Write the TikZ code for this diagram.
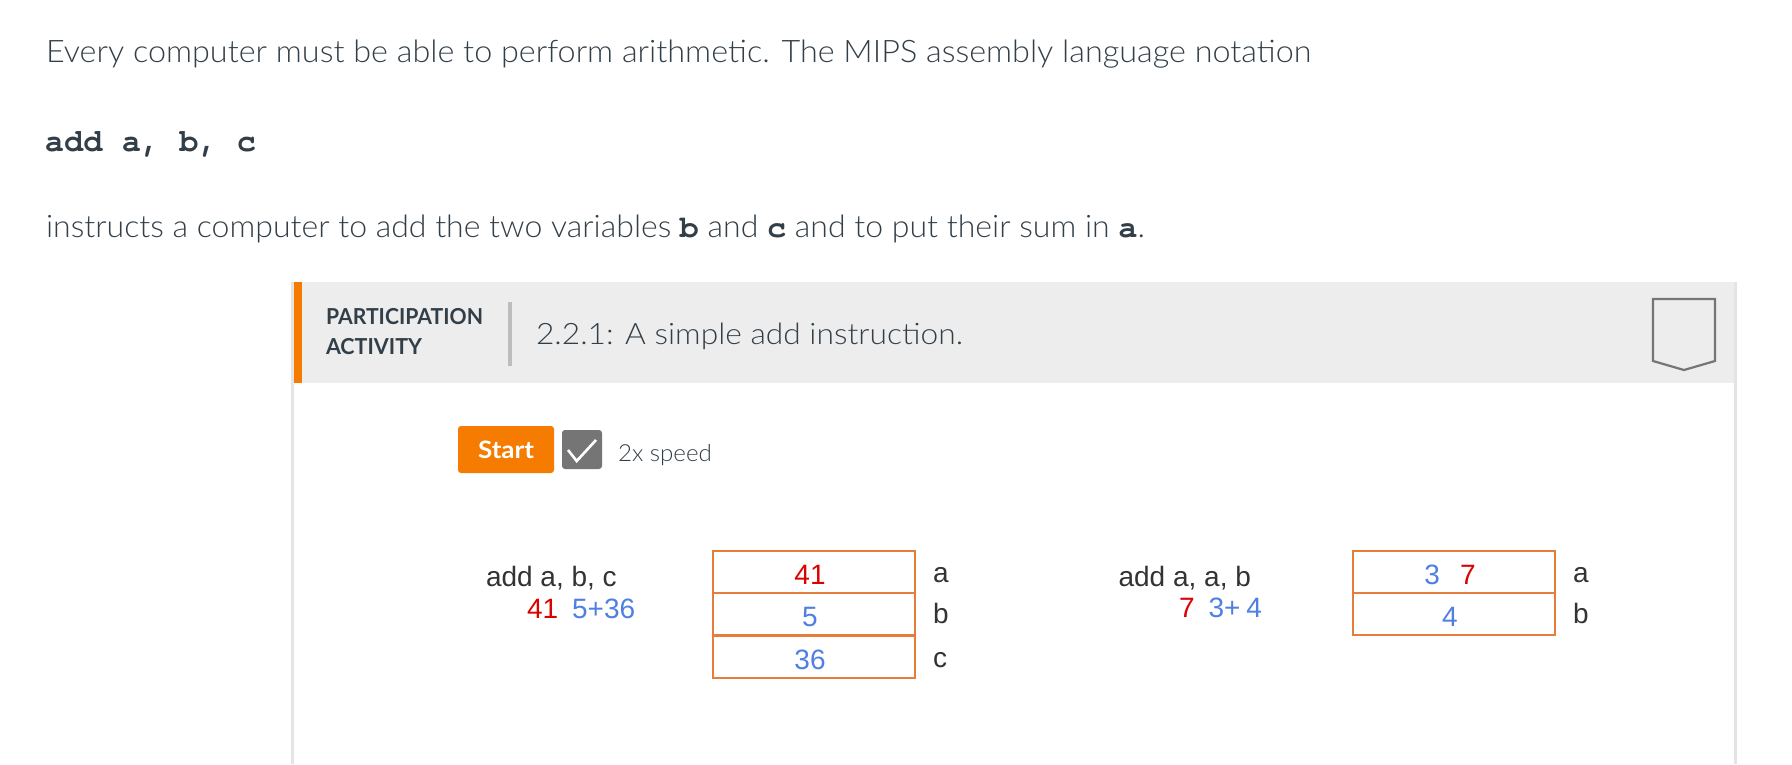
\documentclass[tikz,border=0pt]{standalone}
\usepackage{fontspec}
\usepackage{graphicx}
\IfFontExistsTF{Lato Light}{\setmainfont{Lato}[UprightFont=* Light, BoldFont=* Bold]}{\setmainfont{Lato}}
\newfontfamily\arialf{Liberation Sans}
\IfFontExistsTF{TeX Gyre Cursor}{\newfontfamily\codef{TeX Gyre Cursor}}{\newfontfamily\codef{Liberation Mono}}
\definecolor{ink}{HTML}{333F48}
\definecolor{hdr}{HTML}{EDEDED}
\definecolor{zyorange}{HTML}{F57C00}
\definecolor{cellorange}{HTML}{E67E3B}
\definecolor{valred}{HTML}{DD0000}
\definecolor{valblue}{HTML}{4F7FE0}
\definecolor{sepgrey}{HTML}{BDBDBD}
\definecolor{icongrey}{HTML}{757575}
\definecolor{edgegrey}{HTML}{E4E4E4}
\definecolor{txt}{HTML}{333333}
\newcommand{\fitw}[2]{\resizebox{#1}{\height}{#2}}
\newcommand{\codew}[1]{{\codef\bfseries #1}}
\newcommand{\cellval}[1]{#1\kern8pt\relax}
\tikzset{
  para/.style={anchor=base west, text=ink, font=\fontsize{31}{37}\selectfont},
  hdrbold/.style={anchor=base west, text=ink, font=\bfseries\fontsize{22}{26}\selectfont},
  arialtxt/.style={anchor=base west, text=txt, font=\arialf\fontsize{28}{34}\selectfont},
  cell/.style={draw=cellorange, line width=2pt, minimum width=202pt, minimum height=42pt,
    text height=25pt, text depth=0pt, font=\arialf\fontsize{28}{34}\selectfont},
  button/.style={fill=zyorange, rounded corners=3pt, minimum width=96pt, minimum height=47pt,
    text=white, font=\bfseries\fontsize{24}{28}\selectfont},
  checkbox/.style={fill=icongrey, rounded corners=3pt, minimum width=40pt, minimum height=39pt},
}
\begin{document}
\begin{tikzpicture}[x=1pt,y=-1pt, every node/.style={inner sep=0pt, outer sep=0pt}]
\useasboundingbox (0,0) rectangle (1792,764);
\fill[white] (0,0) rectangle (1792,764);

% introductory text
\node[para] (p1) at (46,62) {\fitw{1265pt}{Every computer must be able to perform arithmetic. The MIPS assembly language notation}};
\node[anchor=base west, text=ink, font=\codef\bfseries\fontsize{32}{38}\selectfont] (p2) at (45,151) {add a, b, c};
\node[para] (p3) at (46,237) {\fitw{1099pt}{instructs a computer to add the two variables \codew{b} and \codew{c} and to put their sum in \codew{a}.}};

% activity frame
\fill[edgegrey] (291,282) rectangle (1737,764);
\fill[white] (294,283) rectangle (1734,764);
\fill[hdr] (294,282) rectangle (1734,383);
\fill[zyorange] (294,282) rectangle (302,383);

\node[hdrbold] (pa1) at (326,324) {\fitw{157pt}{PARTICIPATION}};
\node[hdrbold] (pa2) at (326,354) {\fitw{96pt}{ACTIVITY}};
\draw[sepgrey, line width=4pt] (510,302) -- (510,366);
\node[anchor=base west, text=ink, font=\fontsize{29.5}{35}\selectfont] (title) at (536,344) {\fitw{427pt}{2.2.1: A simple add instruction.}};
\draw[icongrey, line width=2.2pt, line join=miter] (1653,299) -- (1715,299) -- (1715,361) -- (1684,370) -- (1653,361) -- cycle;

% controls
\node[button] (start) at (506,449.5) {\fitw{56pt}{Start}};
\node[checkbox] (chk) at (582,449.5) {};
\draw[white, line width=2.6pt] (568,450) -- (576.7,461) -- (596,440);
\node[anchor=base west, text=ink, font=\fontsize{23.5}{28}\selectfont] (speed) at (618,461) {\fitw{94pt}{2x speed}};

% first example
\node[arialtxt] (ins1) at (486,586) {add a, b, c};
\node[arialtxt] (val1) at (527,618) {\textcolor{valred}{41}\hspace{14pt}\textcolor{valblue}{5+36}};
\node[cell] (ta) at (814,572) {\cellval{\textcolor{valred}{41}}};
\node[cell] (tb) at (814,614) {\cellval{\textcolor{valblue}{5}}};
\node[cell] (tc) at (814,656.5) {\cellval{\textcolor{valblue}{36}}};
\node[arialtxt] (la) at (933,582) {a};
\node[arialtxt] (lb) at (933,623) {b};
\node[arialtxt] (lc) at (933,667) {c};

% second example
\node[arialtxt] (ins2) at (1118.6,586) {add a, a, b};
\node[arialtxt] (val2) at (1179,617) {\textcolor{valred}{7}\hspace{14pt}\textcolor{valblue}{3+\hspace{6pt}4}};
\node[cell] (ua) at (1454,572) {\cellval{\textcolor{valblue}{3}\hspace{20pt}\textcolor{valred}{7}}};
\node[cell] (ub) at (1454,614) {\cellval{\textcolor{valblue}{4}}};
\node[arialtxt] (ma) at (1573,582) {a};
\node[arialtxt] (mb) at (1573,623) {b};
\end{tikzpicture}
\end{document}
